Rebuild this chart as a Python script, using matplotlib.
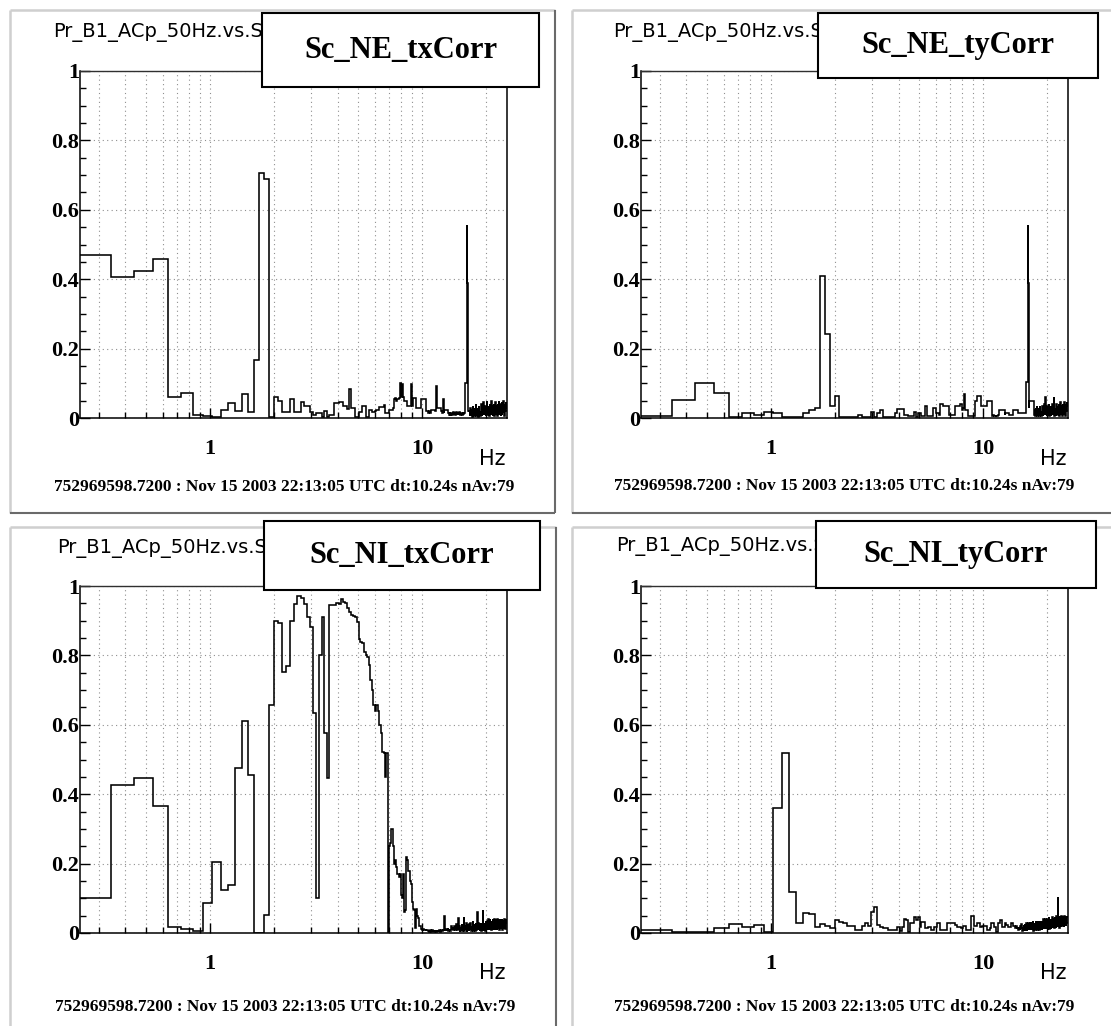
import numpy as np
import matplotlib
matplotlib.use("Agg")
import matplotlib.pyplot as plt
from matplotlib.patches import Rectangle
from matplotlib.lines import Line2D
from matplotlib.ticker import NullFormatter

# ------------------------------------------------------------------ data
DT_SECONDS = 10.24          # FFT length -> bin width 1/dt Hz
FIRST_BIN = 3               # first frequency bin shown (k * 1/dt)

panel_names = ["Sc_NE_txCorr", "Sc_NE_tyCorr", "Sc_NI_txCorr", "Sc_NI_tyCorr"]
panel_header = "Pr_B1_ACp_50Hz.vs.S"
footer_text = "752969598.7200 : Nov 15 2003 22:13:05 UTC dt:10.24s nAv:79"
x_unit = "Hz"
x_major_ticks = [1, 10]
x_major_labels = ["1", "10"]
x_minor_ticks = [0.3, 0.4, 0.5, 0.6, 0.7, 0.8, 0.9, 2, 3, 4, 5, 6, 7, 8, 9, 20]
y_major_ticks = [0.0, 0.2, 0.4, 0.6, 0.8, 1.0]
y_major_labels = ["0", "0.2", "0.4", "0.6", "0.8", "1"]

# coherence per frequency bin, k = 3 .. 256
ne_tx = [
    .47, .405, .425, .458, .06, .073, .01, .006, .003, .022,
    .044, .02, .07, .017, .166, .707, .69, .003, .06, .049,
    .017, .017, .056, .017, .017, .046, .036, .036, .017, .01,
    .015, .015, .003, .021, .003, .01, .01, .042, .042, .047,
    .047, .036, .036, .027, .085, .029, .029, .003, .003, .017,
    .017, .034, .034, .003, .003, .024, .024, .017, .017, .021,
    .024, .024, .032, .032, .032, .037, .015, .015, .015, .024,
    .024, .024, .03, .055, .059, .05, .055, .059, .102, .06,
    .098, .06, .049, .049, .049, .034, .034, .034, .098, .034,
    .059, .059, .059, .059, .03, .03, .03, .03, .03, .054,
    .054, .054, .054, .054, .02, .02, .02, .015, .02, .015,
    .02, .024, .024, .024, .024, .024, .02, .091, .03, .029,
    .029, .029, .029, .029, .02, .015, .054, .015, .024, .024,
    .024, .024, .024, .024, .015, .01, .017, .01, .015, .012,
    .01, .017, .01, .015, .008, .012, .017, .01, .013, .015,
    .01, .017, .012, .01, .015, .012, .01, .017, .012, .015,
    .015, .102, .102, .102, .555, .39, .029, .02, .017, .02,
    .005, .03, .01, .025, .004, .035, .012, .02, .006, .03,
    .01, .04, .005, .025, .015, .03, .004, .035, .012, .02,
    .006, .03, .01, .04, .005, .025, .015, .045, .008, .03,
    .012, .035, .005, .03, .01, .05, .008, .025, .015, .035,
    .005, .04, .012, .03, .008, .05, .01, .035, .006, .03,
    .015, .04, .005, .03, .012, .045, .008, .035, .01, .03,
    .006, .04, .012, .05, .008, .03, .015, .04, .005, .035,
    .012, .045, .008, .03, .015, .05, .01, .035, .006, .04,
    .012, .03, .045, .02,
]

ne_ty = [
    .007, .052, .102, .072, .002, .014, .01, .018, .013, .004,
    .004, .004, .013, .024, .028, .41, .243, .035, .064, .002,
    .002, .003, .002, .002, .008, .003, .002, .003, .017, .003,
    .013, .024, .003, .003, .003, .003, .003, .015, .025, .025,
    .025, .01, .01, .007, .007, .007, .017, .003, .015, .015,
    .005, .005, .034, .005, .005, .005, .005, .029, .029, .015,
    .015, .01, .039, .039, .036, .036, .036, .036, .01, .01,
    .01, .01, .01, .036, .036, .036, .036, .039, .039, .024,
    .03, .068, .024, .024, .024, .005, .005, .005, .005, .005,
    .005, .049, .049, .049, .063, .063, .063, .063, .034, .034,
    .034, .034, .034, .034, .049, .049, .049, .049, .049, .049,
    .005, .005, .008, .005, .005, .008, .005, .005, .01, .024,
    .024, .024, .024, .024, .024, .024, .024, .01, .015, .015,
    .015, .015, .015, .015, .01, .01, .01, .01, .01, .01,
    .024, .024, .024, .024, .024, .024, .024, .015, .015, .015,
    .015, .015, .015, .015, .015, .015, .015, .015, .015, .015,
    .015, .104, .104, .104, .555, .39, .03, .049, .049, .049,
    .049, .049, .049, .049, .049, .049, .008, .025, .005, .03,
    .01, .035, .006, .025, .012, .03, .005, .035, .01, .02,
    .006, .03, .012, .035, .005, .025, .01, .04, .008, .06,
    .01, .03, .005, .035, .012, .025, .008, .04, .006, .03,
    .012, .035, .005, .03, .01, .04, .008, .03, .012, .06,
    .006, .03, .01, .035, .005, .04, .012, .03, .008, .035,
    .01, .04, .006, .03, .012, .045, .008, .035, .01, .03,
    .006, .04, .012, .035, .008, .045, .01, .03, .006, .04,
    .01, .035, .045, .02,
]

ni_tx = [
    .10, .427, .448, .367, .017, .012, .005, .086, .206, .123,
    .137, .475, .61, .455, 0.0, 0.0, .053, .657, .90, .893,
    .753, .77, .90, .948, .971, .964, .948, .91, .883, .633,
    .10, .80, .91, .576, .446, .945, .945, .945, .95, .948,
    .962, .955, .95, .936, .926, .916, .914, .912, .897, .846,
    .84, .835, .81, .80, .795, .773, .73, .70, .657, .64,
    .657, .64, .60, .576, .523, .52, .45, .52, 0.0, .25,
    .26, .30, .25, .20, .21, .19, .17, .16, .17, .11,
    .10, .17, .06, .065, .22, .21, .18, .15, .14, .09,
    .07, .065, .015, .038, .07, .05, .043, .02, .02, .012,
    .01, .012, .008, .01, .006, .008, .01, .005, .004, .008,
    .005, .003, .01, .006, .004, .008, .005, .004, .006, .01,
    .005, .008, .004, .006, .01, .005, .008, .015, .048, .01,
    .005, .012, .008, .015, .006, .01, .012, .005, .02, .01,
    .015, .008, .012, .02, .01, .015, .025, .012, .008, .043,
    .008, .02, .004, .015, .01, .025, .005, .018, .008, .045,
    .005, .02, .01, .03, .004, .022, .012, .018, .005, .025,
    .01, .03, .006, .02, .012, .035, .005, .025, .01, .02,
    .006, .03, .01, .025, .06, .008, .03, .012, .025, .005,
    .02, .01, .03, .006, .025, .012, .065, .008, .03, .01,
    .025, .005, .035, .012, .03, .008, .035, .01, .04, .012,
    .03, .008, .04, .015, .035, .01, .03, .012, .04, .008,
    .035, .015, .04, .01, .03, .012, .04, .015, .035, .01,
    .04, .012, .035, .015, .04, .01, .035, .015, .04, .012,
    .035, .015, .04, .01, .038, .015, .035, .012, .04, .015,
    .035, .012, .04, .03,
]

ni_ty = [
    .008, .003, .002, .014, .026, .017, .024, .002, .36, .518,
    .117, .029, .058, .056, .017, .027, .02, .015, .037, .033,
    .028, .02, .02, .01, .009, .02, .03, .02, .061, .076,
    .023, .016, .013, .013, .008, .008, .008, .008, .016, .007,
    .016, .041, .037, .004, .028, .028, .045, .037, .047, .016,
    .033, .033, .013, .013, .016, .016, .008, .008, .016, .016,
    .03, .03, .01, .01, .01, .008, .008, .028, .028, .03,
    .03, .03, .03, .023, .023, .016, .016, .016, .013, .013,
    .02, .02, .02, .01, .01, .01, .01, .049, .049, .049,
    .02, .02, .02, .02, .028, .028, .028, .016, .016, .02,
    .02, .02, .02, .02, .01, .01, .01, .01, .015, .03,
    .03, .03, .03, .016, .016, .015, .004, .004, .028, .028,
    .028, .037, .037, .016, .016, .016, .016, .028, .028, .022,
    .022, .022, .018, .018, .018, .018, .018, .028, .028, .028,
    .02, .02, .015, .015, .02, .02, .015, .015, .01, .014,
    .008, .02, .012, .025, .006, .018, .01, .022, .008, .025,
    .01, .028, .006, .02, .012, .03, .008, .025, .012, .03,
    .008, .03, .012, .035, .006, .025, .015, .03, .01, .035,
    .012, .03, .008, .035, .015, .028, .01, .035, .012, .03,
    .015, .035, .01, .03, .018, .04, .012, .035, .015, .04,
    .012, .035, .018, .04, .01, .035, .015, .045, .012, .035,
    .018, .04, .012, .035, .02, .045, .015, .04, .018, .04,
    .015, .045, .02, .04, .015, .05, .02, .045, .018, .105,
    .02, .045, .015, .05, .02, .04, .018, .05, .022, .045,
    .02, .05, .025, .045, .018, .05, .022, .045, .025, .05,
    .02, .045, .05, .03,
]

series = [ne_tx, ne_ty, ni_tx, ni_ty]
for s in series:
    assert len(s) == 254, len(s)

# ------------------------------------------------------------------ figure
W, H = 1111, 1026
fig = plt.figure(figsize=(W / 100, H / 100), dpi=100)
fig.patch.set_facecolor("white")

SERIF = ["Liberation Serif", "DejaVu Serif"]
SANS = ["DejaVu Sans"]


def fx(x):
    return x / W


def fy(y):
    return 1 - y / H


def fig_line(xs, ys, color, lw):
    fig.add_artist(Line2D([fx(v) for v in xs], [fy(v) for v in ys],
                          transform=fig.transFigure, color=color, lw=lw,
                          solid_capstyle="butt", zorder=0.2))


LIGHT, DARK = "#cfcfcf", "#6a6a6a"
# panel bevel frames (ROOT canvas look)
fig_line([10, 10], [10, 513], LIGHT, 1.8)
fig_line([10, 555], [10, 10], LIGHT, 1.8)
fig_line([555, 555], [10, 513], DARK, 1.5)
fig_line([10, 555], [513, 513], DARK, 1.5)
fig_line([572, 572], [10, 513], LIGHT, 1.8)
fig_line([572, 1111], [10, 10], LIGHT, 1.8)
fig_line([572, 1111], [513, 513], DARK, 1.5)
fig_line([10, 10], [527, 1026], LIGHT, 1.8)
fig_line([10, 556], [527, 527], LIGHT, 1.8)
fig_line([556, 556], [527, 1026], DARK, 1.5)
fig_line([572, 572], [527, 1026], LIGHT, 1.8)
fig_line([572, 1111], [527, 527], LIGHT, 1.8)

layout = [
    dict(dx=0, dy=0, box=(262, 13, 539, 87), head=(53, 33), foot=(284, 487), hz=(492, 459)),
    dict(dx=561, dy=0, box=(818, 13, 1098, 78), head=(613, 33), foot=(844, 486), hz=(1053, 459)),
    dict(dx=0, dy=515, box=(264, 521, 540, 590), head=(57, 548), foot=(285, 1007), hz=(492, 973)),
    dict(dx=561, dy=515, box=(816, 521, 1096, 588), head=(616, 547), foot=(844, 1007), hz=(1053, 973)),
]

for name, vals, L in zip(panel_names, series, layout):
    x0, x1 = 80 + L["dx"], 506.5 + L["dx"]
    y0, y1 = 71 + L["dy"], 418 + L["dy"]
    ax = fig.add_axes([fx(x0), fy(y1), (x1 - x0) / W, (y1 - y0) / H])
    ax.set_facecolor("white")

    v = np.asarray(vals, dtype=float)
    k = np.arange(FIRST_BIN, FIRST_BIN + len(v) + 1)
    edges = (k - 0.5) / DT_SECONDS
    ax.stairs(v, edges, baseline=None, color="black", lw=1.15, zorder=3)

    ax.set_xscale("log")
    ax.set_xlim(edges[0], edges[-1])
    ax.set_ylim(0, 1)

    ax.set_xticks(x_major_ticks, labels=x_major_labels)
    ax.set_xticks(x_minor_ticks, minor=True)
    ax.xaxis.set_minor_formatter(NullFormatter())
    ax.set_yticks(y_major_ticks, labels=y_major_labels)
    ax.set_yticks(np.arange(0, 1.001, 0.05), minor=True)

    ax.set_axisbelow(True)
    ax.grid(True, which="both", axis="x", color="#8f8f8f", ls=(0, (1, 3)), lw=0.8)
    ax.grid(True, which="major", axis="y", color="#8f8f8f", ls=(0, (1, 3)), lw=0.8)

    ax.tick_params(which="both", direction="in", top=False, right=False, width=1.0, color="black")
    ax.tick_params(which="major", length=7.5)
    ax.tick_params(which="minor", length=4.3)
    ax.tick_params(axis="x", which="major", pad=15)
    ax.tick_params(axis="y", which="major", pad=0.5)
    for lbl in ax.get_xticklabels() + ax.get_yticklabels():
        lbl.set_fontfamily(SERIF)
        lbl.set_fontweight("bold")
        lbl.set_fontsize(16)

    for side in ("left", "bottom", "right"):
        ax.spines[side].set_color("black")
        ax.spines[side].set_linewidth(1.1)
    ax.spines["top"].set_color("#303030")
    ax.spines["top"].set_linewidth(1.0)
    ax.spines["top"].set_linestyle((0, (3, 1)))

    # header (partly hidden by the name box)
    hx, hy = L["head"]
    fig.text(fx(hx), fy(hy), panel_header, ha="left", va="center",
             fontsize=14, family=SANS, color="black", zorder=0.5)

    # name box
    bx0, by0, bx1, by1 = L["box"]
    fig.add_artist(Rectangle((fx(bx0), fy(by1)), (bx1 - bx0) / W, (by1 - by0) / H,
                             transform=fig.transFigure, facecolor="white",
                             edgecolor="black", lw=1.5, zorder=2))
    fig.text(fx((bx0 + bx1) / 2), fy((by0 + by1) / 2), name, ha="center", va="center",
             fontsize=22, fontweight="bold", family=SERIF, zorder=3)

    # unit label
    ux, uy = L["hz"]
    fig.text(fx(ux), fy(uy), x_unit, ha="center", va="center", fontsize=15,
             family=SANS, zorder=3)

    # footer
    fxx, fyy = L["foot"]
    fig.text(fx(fxx), fy(fyy), footer_text, ha="center", va="center", fontsize=12.5,
             fontweight="bold", family=SERIF, zorder=3)

fig.savefig("out.png", dpi=100, facecolor="white")
